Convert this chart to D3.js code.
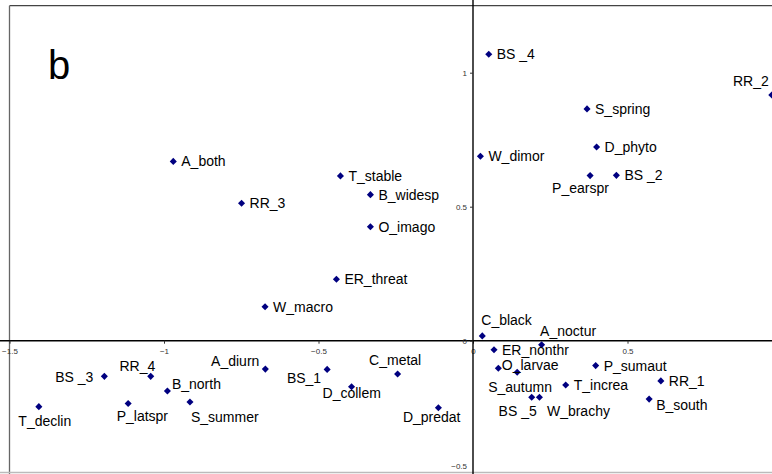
<!DOCTYPE html>
<html>
<head>
<meta charset="utf-8">
<script src="https://cdn.jsdelivr.net/npm/d3@7"></script>
<style>
  body { margin: 0; background: #fff; }
  svg { display: block; font-family: "Liberation Sans", Arial, sans-serif; }
</style>
</head>
<body>
<div id="chart"></div>
<script>
// Ordination scores (axis 1, axis 2)
const names = ["A_both", "T_stable", "RR_3", "B_widesp", "O_imago", "ER_threat", "W_macro",
  "BS _4", "S_spring", "D_phyto", "W_dimor", "P_earspr", "BS _2", "RR_2",
  "C_black", "A_noctur", "ER_nonthr", "O_larvae", "S_autumn", "BS _5", "W_brachy",
  "T_increa", "P_sumaut", "RR_1", "B_south",
  "BS _3", "RR_4", "B_north", "P_latspr", "S_summer", "T_declin",
  "A_diurn", "BS_1", "D_collem", "C_metal", "D_predat"];
const xValues = [-0.970, -0.429, -0.749, -0.332, -0.332, -0.442, -0.673,
  0.051, 0.369, 0.400, 0.024, 0.379, 0.464, 0.967,
  0.030, 0.222, 0.068, 0.082, 0.143, 0.190, 0.215,
  0.300, 0.397, 0.608, 0.570,
  -1.193, -1.043, -0.989, -1.116, -0.916, -1.405,
  -0.672, -0.472, -0.393, -0.244, -0.112];
const yValues = [0.669, 0.615, 0.513, 0.545, 0.425, 0.229, 0.127,
  1.069, 0.865, 0.723, 0.688, 0.616, 0.617, 0.917,
  0.018, -0.015, -0.034, -0.103, -0.118, -0.211, -0.211,
  -0.165, -0.093, -0.150, -0.218,
  -0.133, -0.133, -0.188, -0.234, -0.229, -0.246,
  -0.106, -0.107, -0.172, -0.124, -0.250];
const xTicks = [-1.5, -1, -0.5, 0, 0.5];
const yTicks = [-0.5, 0, 0.5, 1];
const panelLetter = "b";

const points = names.map((n, i) => ({ name: n, x: xValues[i], y: yValues[i] }));

// label placement: [anchor, dx, dy] relative to the marker
const defaultLabel = ["start", 8, 5];
const labelPos = {
  "P_earspr": ["start", -38, 17.5],
  "RR_2": ["end", -3, -9],
  "C_black": ["start", -1, -11],
  "A_noctur": ["start", -1.5, -8.5],
  "O_larvae": ["start", 3.5, 2],
  "S_autumn": ["start", -29, 19.5],
  "BS _5": ["end", 5, 19],
  "W_brachy": ["start", 7.5, 19],
  "B_south": ["start", 7, 11],
  "BS _3": ["end", -11, 6],
  "RR_4": ["end", 4.5, -5.5],
  "B_north": ["start", 4.5, -2.5],
  "P_latspr": ["start", -11.5, 18],
  "S_summer": ["start", 1, 19.5],
  "T_declin": ["start", -20.5, 19],
  "A_diurn": ["end", -6, -3],
  "BS_1": ["end", -6, 13.5],
  "D_collem": ["start", -29, 11.5],
  "C_metal": ["start", -28.5, -8.5],
  "D_predat": ["start", -35.5, 14]
};

const width = 772, height = 474;

const svg = d3.select("#chart").append("svg")
  .attr("width", width)
  .attr("height", height);

const x = d3.scaleLinear().domain([-1.5, 1]).range([9.5, 782]);
const y = d3.scaleLinear().domain([-0.5, 1.25]).range([474.7, 5.7]);

// plot frame
svg.append("line")
  .attr("x1", x(-1.5)).attr("x2", width)
  .attr("y1", y(1.25)).attr("y2", y(1.25))
  .attr("stroke", "#444").attr("stroke-width", 1.3);
svg.append("line")
  .attr("x1", x(-1.5)).attr("x2", x(-1.5))
  .attr("y1", y(1.25)).attr("y2", height)
  .attr("stroke", "#666").attr("stroke-width", 1.3);
svg.append("line")
  .attr("x1", 0).attr("x2", width)
  .attr("y1", 472.5).attr("y2", 472.5)
  .attr("stroke", "#bbb").attr("stroke-width", 1.5);

// axes through the origin
const xAxis = svg.append("g")
  .attr("transform", `translate(0,${y(0)})`)
  .call(d3.axisBottom(x).tickValues(xTicks).tickSize(3).tickSizeOuter(0)
    .tickFormat(d3.format("")));
const yAxis = svg.append("g")
  .attr("transform", `translate(${x(0)},0)`)
  .call(d3.axisLeft(y).tickValues(yTicks).tickSize(3).tickSizeOuter(0)
    .tickFormat(d3.format("")));

[xAxis, yAxis].forEach(function(ax) {
  ax.select(".domain").attr("stroke", "#000").attr("stroke-width", 1.4);
  ax.selectAll(".tick line").attr("stroke", "#333");
  ax.selectAll(".tick text")
    .attr("fill", "#333")
    .style("font-size", "8px")
    .style("font-family", "'Liberation Sans', Arial, sans-serif");
});
xAxis.select(".domain").attr("d", `M0,0H${width}`);
yAxis.select(".domain").attr("d", `M0,0V${height}`);
xAxis.selectAll(".tick text").attr("y", 8);
yAxis.selectAll(".tick text").attr("x", -6);
// keep the bottom tick label inside the picture
yAxis.selectAll(".tick text").filter(d => d === -0.5).attr("dy", "-0.75em");

// markers
svg.selectAll(".pt")
  .data(points)
  .enter()
  .append("path")
  .attr("class", "pt")
  .attr("d", d3.symbol().type(d3.symbolSquare).size(25))
  .attr("transform", d => `translate(${x(d.x)},${y(d.y)}) rotate(45)`)
  .attr("fill", "#000080");

// labels
svg.selectAll(".label")
  .data(points)
  .enter()
  .append("text")
  .attr("class", "label")
  .attr("x", d => x(d.x) + (labelPos[d.name] || defaultLabel)[1])
  .attr("y", d => y(d.y) + (labelPos[d.name] || defaultLabel)[2])
  .attr("text-anchor", d => (labelPos[d.name] || defaultLabel)[0])
  .style("font-size", "14px")
  .attr("fill", "#000")
  .text(d => d.name);

// panel letter
svg.append("text")
  .attr("x", 48)
  .attr("y", 79)
  .style("font-size", "40px")
  .attr("fill", "#000")
  .text(panelLetter);
</script>
</body>
</html>
